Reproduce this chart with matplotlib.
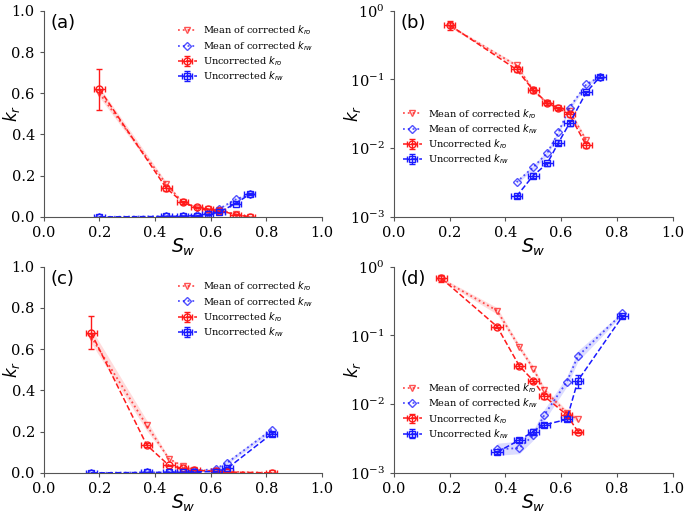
import numpy as np
import matplotlib.pyplot as plt

plt.rcParams['font.family'] = ['DejaVu Serif']

# data set 1 -> panels (a), (b)
sw1 = [0.20, 0.44, 0.50, 0.55, 0.59, 0.63, 0.69, 0.74]
sw1_err = [0.02, 0.02, 0.02, 0.02, 0.02, 0.02, 0.02, 0.02]
kro_unc1 = [0.62, 0.14, 0.070, 0.046, 0.038, 0.031, 0.011, 0.0]
kro_unc1_err = [0.10, 0.012, 0.006, 0.003, 0.002, 0.003, 0.001, 0.0]
krw_unc1 = [0.0, 0.002, 0.004, 0.006, 0.012, 0.023, 0.065, 0.11]
krw_unc1_err = [0.0, 0.0001, 0.0003, 0.0004, 0.001, 0.002, 0.004, 0.005]
kro_cor1 = [0.60, 0.16, 0.070, 0.045, 0.038, 0.035, 0.013, 0.0]
kro_cor1_lo = [0.58, 0.150, 0.066, 0.043, 0.036, 0.033, 0.012, 0.0]
kro_cor1_hi = [0.63, 0.170, 0.074, 0.047, 0.040, 0.037, 0.014, 0.0]
krw_cor1 = [0.0, 0.0032, 0.0053, 0.0085, 0.017, 0.039, 0.085, 0.11]
krw_cor1_lo = [0.0, 0.0030, 0.0049, 0.0078, 0.0157, 0.036, 0.080, 0.105]
krw_cor1_hi = [0.0, 0.0034, 0.0057, 0.0092, 0.0183, 0.042, 0.090, 0.115]

# data set 2 -> panels (c), (d)
sw2 = [0.17, 0.37, 0.45, 0.50, 0.54, 0.62, 0.66, 0.82]
sw2_err = [0.02, 0.02, 0.02, 0.02, 0.02, 0.02, 0.02, 0.02]
kro_unc2 = [0.68, 0.135, 0.036, 0.022, 0.013, 0.007, 0.004, 0.0]
kro_unc2_err = [0.08, 0.008, 0.002, 0.0015, 0.001, 0.0008, 0.0002, 0.0]
krw_unc2 = [0.0, 0.002, 0.003, 0.004, 0.005, 0.006, 0.022, 0.19]
krw_unc2_err = [0.0, 0.0001, 0.0002, 0.0003, 0.0003, 0.0004, 0.005, 0.01]
kro_cor2 = [0.66, 0.23, 0.068, 0.033, 0.016, 0.0075, 0.006, 0.0]
kro_cor2_lo = [0.63, 0.205, 0.062, 0.030, 0.0145, 0.0068, 0.0055, 0.0]
kro_cor2_hi = [0.70, 0.255, 0.074, 0.036, 0.0175, 0.0082, 0.0065, 0.0]
krw_cor2 = [0.0, 0.0022, 0.0023, 0.0035, 0.007, 0.021, 0.050, 0.21]
krw_cor2_lo = [0.0, 0.0018, 0.0019, 0.0030, 0.0058, 0.018, 0.042, 0.20]
krw_cor2_hi = [0.0, 0.0027, 0.0029, 0.0042, 0.0085, 0.025, 0.060, 0.22]

RED = '#ff1a1a'
BLUE = '#1a1aff'


def pos(a, log):
    a = np.asarray(a, dtype=float)
    if log:
        return np.where(a > 0, a, np.nan)
    return a


def panel(ax, label, log, sw, swe, ko, koe, kw, kwe, kc, kcl, kch, wc, wcl, wch, leg_loc, leg_anchor):
    sw = np.asarray(sw)
    # mean of corrected, with band
    ax.fill_between(sw, pos(kcl, log), pos(kch, log), color=RED, alpha=0.15, lw=0)
    ax.fill_between(sw, pos(wcl, log), pos(wch, log), color=BLUE, alpha=0.15, lw=0)
    ax.plot(sw, pos(kc, log), ':', color=RED, alpha=0.75, lw=1.3, marker='v', ms=5,
            mfc='none', label='Mean of corrected $k_{ro}$')
    ax.plot(sw, pos(wc, log), ':', color=BLUE, alpha=0.75, lw=1.3, marker='D', ms=4.5,
            mfc='none', label='Mean of corrected $k_{rw}$')
    # uncorrected with error bars
    ax.errorbar(sw, pos(ko, log), xerr=swe, yerr=koe, fmt='--o', color=RED, lw=1.1,
                ms=5, mfc='none', capsize=2, elinewidth=1, label='Uncorrected $k_{ro}$')
    ax.errorbar(sw, pos(kw, log), xerr=swe, yerr=kwe, fmt='--s', color=BLUE, lw=1.1,
                ms=5, mfc='none', capsize=2, elinewidth=1, label='Uncorrected $k_{rw}$')

    ax.set_xlim(0, 1)
    if log:
        ax.set_yscale('log')
        ax.set_ylim(1e-3, 1)
    else:
        ax.set_ylim(0, 1)
        ax.set_yticks([0, 0.2, 0.4, 0.6, 0.8, 1.0])
    ax.set_xticks([0, 0.2, 0.4, 0.6, 0.8, 1.0])
    for s in ['top', 'right']:
        ax.spines[s].set_visible(False)
    for s in ['left', 'bottom']:
        ax.spines[s].set_color('#555555')
    ax.tick_params(labelsize=10.5, color='#555555', length=3)
    ax.tick_params(which='minor', length=0)
    ax.set_xlabel('$S_w$', fontsize=13.5, family='DejaVu Sans')
    ax.set_ylabel('$k_r$', fontsize=12, family='DejaVu Sans')
    ax.xaxis.set_label_coords(0.5, -0.095)
    ax.yaxis.set_label_coords(-0.08 if not log else -0.11, 0.5)
    ax.text(0.025, 0.985, label, transform=ax.transAxes, ha='left', va='top',
            fontsize=13, family='DejaVu Sans')
    ax.legend(loc=leg_loc, bbox_to_anchor=leg_anchor, frameon=False, fontsize=7,
              handlelength=2.0, labelspacing=0.15, handletextpad=0.6)


fig = plt.figure(figsize=(6.85, 5.14), dpi=100)
ax_a = fig.add_axes([0.064, 0.578, 0.406, 0.401])
ax_b = fig.add_axes([0.575, 0.578, 0.407, 0.401])
ax_c = fig.add_axes([0.064, 0.080, 0.406, 0.401])
ax_d = fig.add_axes([0.575, 0.080, 0.407, 0.401])

panel(ax_a, '(a)', False, sw1, sw1_err, kro_unc1, kro_unc1_err, krw_unc1, krw_unc1_err,
      kro_cor1, kro_cor1_lo, kro_cor1_hi, krw_cor1, krw_cor1_lo, krw_cor1_hi,
      'upper right', (1.0, 0.98))
panel(ax_b, '(b)', True, sw1, sw1_err, kro_unc1, kro_unc1_err, krw_unc1, krw_unc1_err,
      kro_cor1, kro_cor1_lo, kro_cor1_hi, krw_cor1, krw_cor1_lo, krw_cor1_hi,
      'center left', (0.0, 0.39))
panel(ax_c, '(c)', False, sw2, sw2_err, kro_unc2, kro_unc2_err, krw_unc2, krw_unc2_err,
      kro_cor2, kro_cor2_lo, kro_cor2_hi, krw_cor2, krw_cor2_lo, krw_cor2_hi,
      'upper right', (1.0, 0.98))
panel(ax_d, '(d)', True, sw2, sw2_err, kro_unc2, kro_unc2_err, krw_unc2, krw_unc2_err,
      kro_cor2, kro_cor2_lo, kro_cor2_hi, krw_cor2, krw_cor2_lo, krw_cor2_hi,
      'center left', (0.0, 0.30))

fig.savefig('out.png', dpi=100)
